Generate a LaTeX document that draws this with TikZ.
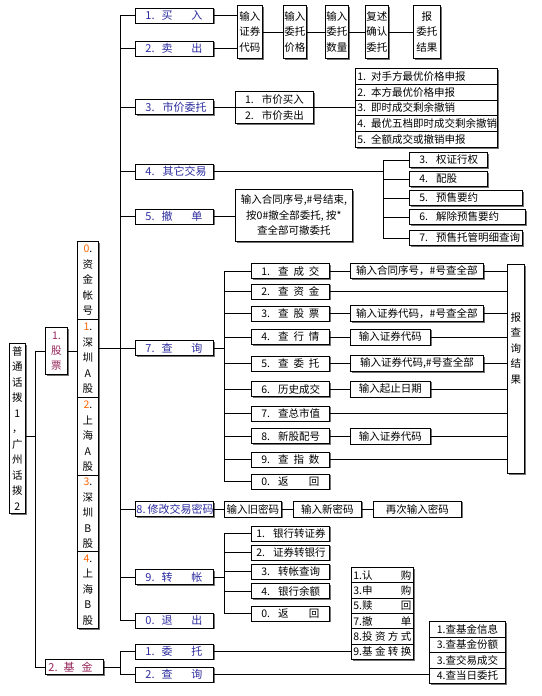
\documentclass[tikz,border=0pt]{standalone}
\usepackage{fontspec}
\setmainfont{Noto Sans CJK SC}
\usetikzlibrary{shadows}
\definecolor{menublue}{RGB}{45,45,160}
\definecolor{maroonc}{RGB}{150,35,90}
\definecolor{digor}{RGB}{255,102,0}
\newcommand\mitem[2]{\hbox to 78pt{\hskip10pt #1\hfil #2\hskip11pt}}
\newcommand\mleft[1]{\hbox to 78pt{\hskip10pt #1\hfil}}
\newcommand\lb[3]{\hbox to #1{\hskip#2 #3\hfil}}
\tikzset{
 bx/.style={draw=black, fill=white, inner sep=0pt, line width=0.8pt,
   drop shadow={shadow xshift=1.2pt, shadow yshift=-1.2pt, fill=black!55, opacity=1},
   font=\fontsize{10.5}{15.5}\selectfont, align=center},
 mbox/.style={bx, minimum width=78pt, minimum height=15pt, anchor=west, text=menublue,
   font=\fontsize{11}{13}\selectfont},
 qbox/.style={bx, minimum width=78pt, minimum height=15pt, anchor=west},
 nw/.style={bx, anchor=north west},
 wbox/.style={bx, anchor=west, minimum height=16pt},
}
\begin{document}
\begin{tikzpicture}[x=1pt,y=-1pt,line width=0.8pt]
\useasboundingbox (0,0) rectangle (541,696);

% left column
\node[nw, minimum width=16pt, minimum height=170pt] (L) at (9,343)
  {普\\通\\话\\拨\\1\\，\\广\\州\\话\\拨\\2};
\node[nw, minimum width=22pt, minimum height=47pt, text=maroonc,
  font=\fontsize{10.5}{15}\selectfont] (GP) at (45,327) {1.\\股\\票};
\node[nw, minimum width=58pt, minimum height=15pt, text=maroonc,
  font=\fontsize{11}{13}\selectfont] (JJ) at (45,659)
  {\hbox to 56pt{\hskip2pt 2.\hskip6pt 基\hskip7pt 金\hfil}};

% market column
\node[nw, minimum width=21pt, minimum height=78pt] (M0) at (77,241) {{\color{digor}0}.\\资\\金\\帐\\号};
\node[nw, minimum width=21pt, minimum height=78pt] (M1) at (77,319) {{\color{digor}1}.\\深\\圳\\A\\股};
\node[nw, minimum width=21pt, minimum height=78pt] (M2) at (77,397) {{\color{digor}2}.\\上\\海\\A\\股};
\node[nw, minimum width=21pt, minimum height=76pt] (M3) at (77,475) {{\color{digor}3}.\\深\\圳\\B\\股};
\node[nw, minimum width=21pt, minimum height=77pt] (M4) at (77,551) {{\color{digor}4}.\\上\\海\\B\\股};

% menu
\node[mbox] (B1) at (135,15.5) {\mitem{1.\hskip7pt 买}{入}};
\node[mbox] (B2) at (135,48.5) {\mitem{2.\hskip7pt 卖}{出}};
\node[mbox] (B3) at (135,107) {\mleft{3.\hskip8pt 市价委托}};
\node[mbox] (B4) at (135,171.5) {\mleft{4.\hskip8pt 其它交易}};
\node[mbox] (B5) at (135,216.5) {\mitem{5.\hskip7pt 撤}{单}};
\node[mbox] (B7) at (135,348) {\mitem{7.\hskip7pt 查}{询}};
\node[mbox] (B8) at (135,509) {\hbox to 78pt{\hskip1pt 8.\hskip2pt 修改交易密码\hfil}};
\node[mbox] (B9) at (135,577) {\mitem{9.\hskip7pt 转}{帐}};
\node[mbox] (B0) at (135,620.5) {\mitem{0.\hskip7pt 退}{出}};
\node[mbox] (F1) at (135,651.5) {\mitem{1.\hskip7pt 委}{托}};
\node[mbox] (F2) at (135,674.5) {\mitem{2.\hskip7pt 查}{询}};

% buy / sell chain
\node[nw, minimum width=25pt, minimum height=53pt] (C1) at (237,5) {输入\\证券\\代码};
\node[nw, minimum width=23pt, minimum height=53pt] (C2) at (283,5) {输入\\委托\\价格};
\node[nw, minimum width=23pt, minimum height=53pt] (C3) at (325,5) {输入\\委托\\数量};
\node[nw, minimum width=23pt, minimum height=53pt] (C4) at (365,5) {复述\\确认\\委托};
\node[nw, minimum width=27pt, minimum height=53pt] (C5) at (413,5) {报\\委托\\结果};

% market price
\node[nw, minimum width=78pt, minimum height=16pt] (MPa) at (235,91) {1.\hskip8pt 市价买入};
\node[nw, minimum width=78pt, minimum height=16pt] (MPb) at (235,107) {2.\hskip8pt 市价卖出};
\node[nw, minimum width=142pt, minimum height=15.8pt] (LR1) at (355,68) {\lb{142pt}{2pt}{1.\hskip5pt 对手方最优价格申报}};
\node[nw, minimum width=142pt, minimum height=15.8pt] (LR2) at (355,83.8) {\lb{142pt}{2pt}{2.\hskip5pt 本方最优价格申报}};
\node[nw, minimum width=142pt, minimum height=15.8pt] (LR3) at (355,99.6) {\lb{142pt}{2pt}{3.\hskip5pt 即时成交剩余撤销}};
\node[nw, minimum width=142pt, minimum height=15.8pt] (LR4) at (355,115.4) {\lb{142pt}{2pt}{4.\hskip5pt 最优五档即时成交剩余撤销}};
\node[nw, minimum width=142pt, minimum height=15.8pt] (LR5) at (355,131.2) {\lb{142pt}{2pt}{5.\hskip5pt 全额成交或撤销申报}};

% other trades
\node[nw, minimum width=78pt, minimum height=15pt] (O3) at (409,152) {\lb{78pt}{10pt}{3.\hskip8pt 权证行权}};
\node[nw, minimum width=78pt, minimum height=15pt] (O4) at (409,171) {\lb{78pt}{10pt}{4.\hskip8pt 配股}};
\node[nw, minimum width=113pt, minimum height=15pt] (O5) at (409,190) {\lb{113pt}{10pt}{5.\hskip8pt 预售要约}};
\node[nw, minimum width=116pt, minimum height=15pt] (O6) at (409,209) {\lb{116pt}{10pt}{6.\hskip8pt 解除预售要约}};
\node[nw, minimum width=113pt, minimum height=15pt] (O7) at (409,230) {\lb{113pt}{10pt}{7.\hskip8pt 预售托管明细查询}};

% withdraw
\node[nw, minimum width=117pt, minimum height=52pt] (W5) at (235,189)
  {输入合同序号,\#号结束,\\按0\#撤全部委托, 按*\\查全部可撤委托};

% query
\node[qbox] (Q1) at (251,271) {\hbox to 58pt{1.\hskip8pt 查\hfil 成\hfil 交}};
\node[qbox] (Q2) at (251,291.5) {\hbox to 58pt{2.\hskip8pt 查\hfil 资\hfil 金}};
\node[qbox] (Q3) at (251,313.5) {\hbox to 58pt{3.\hskip8pt 查\hfil 股\hfil 票}};
\node[qbox] (Q4) at (251,337) {\hbox to 58pt{4.\hskip8pt 查\hfil 行\hfil 情}};
\node[qbox] (Q5) at (251,363.5) {\hbox to 58pt{5.\hskip8pt 查\hfil 委\hfil 托}};
\node[qbox] (Q6) at (251,389) {\hbox to 58pt{6.\hskip8pt 历史成交\hfil}};
\node[qbox] (Q7) at (251,413.5) {\hbox to 58pt{7.\hskip8pt 查总市值\hfil}};
\node[qbox] (Q8) at (251,436) {\hbox to 58pt{8.\hskip8pt 新股配号\hfil}};
\node[qbox] (Q9) at (251,459.5) {\hbox to 58pt{9.\hskip8pt 查\hfil 指\hfil 数}};
\node[qbox] (Q0) at (251,481.5) {\hbox to 58pt{0.\hskip8pt 返\hfil 回}};

\node[wbox, minimum width=133pt, minimum height=15pt] (I1) at (350,271) {输入合同序号，\#号查全部};
\node[wbox, minimum width=133pt] (I3) at (350,313.5) {输入证券代码，\#号查全部};
\node[wbox, minimum width=80pt] (I4) at (350,337) {输入证券代码};
\node[wbox, minimum width=133pt] (I5) at (350,363.5) {输入证券代码,\#号查全部};
\node[wbox, minimum width=80pt] (I6) at (350,389) {输入起止日期};
\node[wbox, minimum width=80pt] (I8) at (350,436) {输入证券代码};

\node[nw, minimum width=17pt, minimum height=209pt] (R) at (507,264)
  {\parbox[c][209pt][t]{17pt}{\centering\vspace*{48pt}报\\查\\询\\结\\果}};

% password
\node[wbox, minimum width=57pt] (P1) at (224,509) {输入旧密码};
\node[wbox, minimum width=68pt] (P2) at (293,509) {输入新密码};
\node[wbox, minimum width=88pt] (P3) at (373,509) {再次输入密码};

% transfer
\node[qbox] (T1) at (251,533.5) {\hbox to 68pt{1.\hskip8pt 银行转证券\hfil}};
\node[qbox] (T2) at (251,552.5) {\hbox to 68pt{2.\hskip8pt 证券转银行\hfil}};
\node[qbox] (T3) at (251,571.5) {\hbox to 58pt{3.\hskip8pt 转帐查询\hfil}};
\node[qbox] (T4) at (251,591) {\hbox to 58pt{4.\hskip8pt 银行余额\hfil}};
\node[qbox] (T0) at (251,613.5) {\hbox to 58pt{0.\hskip8pt 返\hfil 回}};

% fund lists
\node[nw, minimum width=62pt, minimum height=15.33pt] (FL1) at (351,567) {\hbox to 58pt{1.认\hfil 购}};
\node[nw, minimum width=62pt, minimum height=15.33pt] (FL2) at (351,582.33) {\hbox to 58pt{3.申\hfil 购}};
\node[nw, minimum width=62pt, minimum height=15.33pt] (FL3) at (351,597.67) {\hbox to 58pt{5.赎\hfil 回}};
\node[nw, minimum width=62pt, minimum height=15.33pt] (FL4) at (351,613) {\hbox to 58pt{7.撤\hfil 单}};
\node[nw, minimum width=62pt, minimum height=15.33pt] (FL5) at (351,628.33) {\hbox to 58pt{8.投\hfil 资\hfil 方\hfil 式}};
\node[nw, minimum width=62pt, minimum height=15.33pt] (FL6) at (351,643.67) {\hbox to 58pt{9.基\hfil 金\hfil 转\hfil 换}};

\node[nw, minimum width=76pt, minimum height=15.5pt] (FQ1) at (429,621) {1.查基金信息};
\node[nw, minimum width=76pt, minimum height=15.5pt] (FQ2) at (429,636.5) {3.查基金份额};
\node[nw, minimum width=76pt, minimum height=15.5pt] (FQ3) at (429,652) {3.查交易成交};
\node[nw, minimum width=76pt, minimum height=15.5pt] (FQ4) at (429,667.5) {4.查当日委托};

% ---------- connectors ----------
\coordinate (lx) at (35,436);
\coordinate (tx) at (120,0);
\coordinate (ox) at (383,0);
\coordinate (qx) at (224,0);

\draw (L.east |- lx) -- (lx);
\draw (lx |- GP.west) -- (lx |- JJ.west);
\draw (lx |- GP.west) -- (GP.west);
\draw (lx |- JJ.west) -- (JJ.west);
\draw (GP.east) -- (GP.east -| M1.west);
\draw (M1.east |- B7.west) -- (B7.west);

\draw (tx |- B1.west) -- (tx |- B0.west);
\foreach \n in {B1,B2,B3,B4,B5,B8,B9,B0} {\draw (tx |- \n.west) -- (\n.west);}
\draw (JJ.east) -- (tx |- JJ.east);
\draw (tx |- F1.west) -- (tx |- F2.west);
\foreach \n in {F1,F2} {\draw (tx |- \n.west) -- (\n.west);}

\draw (B1.east) -- (B1.east -| C1.west);
\draw (B2.east) -- (B2.east -| C1.west);
\draw (C1.east) -- (C2.west);
\draw (C2.east) -- (C3.west);
\draw (C3.east) -- (C4.west);
\draw (C4.east) -- (C5.west);

\draw (B3.east) -- (B3.east -| MPa.west);
\draw (MPa.south east) -- (MPa.south east -| LR3.west);

\draw (B4.east) -- (ox |- B4.east);
\draw (ox |- O3.west) -- (ox |- O7.west);
\foreach \n in {O3,O4,O5,O6,O7} {\draw (ox |- \n.west) -- (\n.west);}

\draw (B5.east) -- (B5.east -| W5.west);

\draw (B7.east) -- (qx |- B7.east);
\draw (qx |- Q1.west) -- (qx |- Q0.west);
\foreach \n in {Q1,Q2,Q3,Q4,Q5,Q6,Q7,Q8,Q9,Q0} {\draw (qx |- \n.west) -- (\n.west);}
\foreach \a/\b in {Q1/I1,Q3/I3,Q4/I4,Q5/I5,Q6/I6,Q8/I8} {
  \draw (\a.east) -- (\a.east -| \b.west);
  \draw (\b.east) -- (\b.east -| R.west);}
\foreach \a in {Q2,Q7,Q9} {\draw (\a.east) -- (\a.east -| R.west);}

\draw (B8.east) -- (P1.west);
\draw (P1.east) -- (P2.west);
\draw (P2.east) -- (P3.west);

\draw (B9.east) -- (qx |- B9.east);
\draw (qx |- T1.west) -- (qx |- T0.west);
\foreach \n in {T1,T2,T3,T4,T0} {\draw (qx |- \n.west) -- (\n.west);}

\draw (F1.east) -- (F1.east -| FL6.west);
\draw (F2.east) -- (F2.east -| FQ4.west);
\end{tikzpicture}
\end{document}
